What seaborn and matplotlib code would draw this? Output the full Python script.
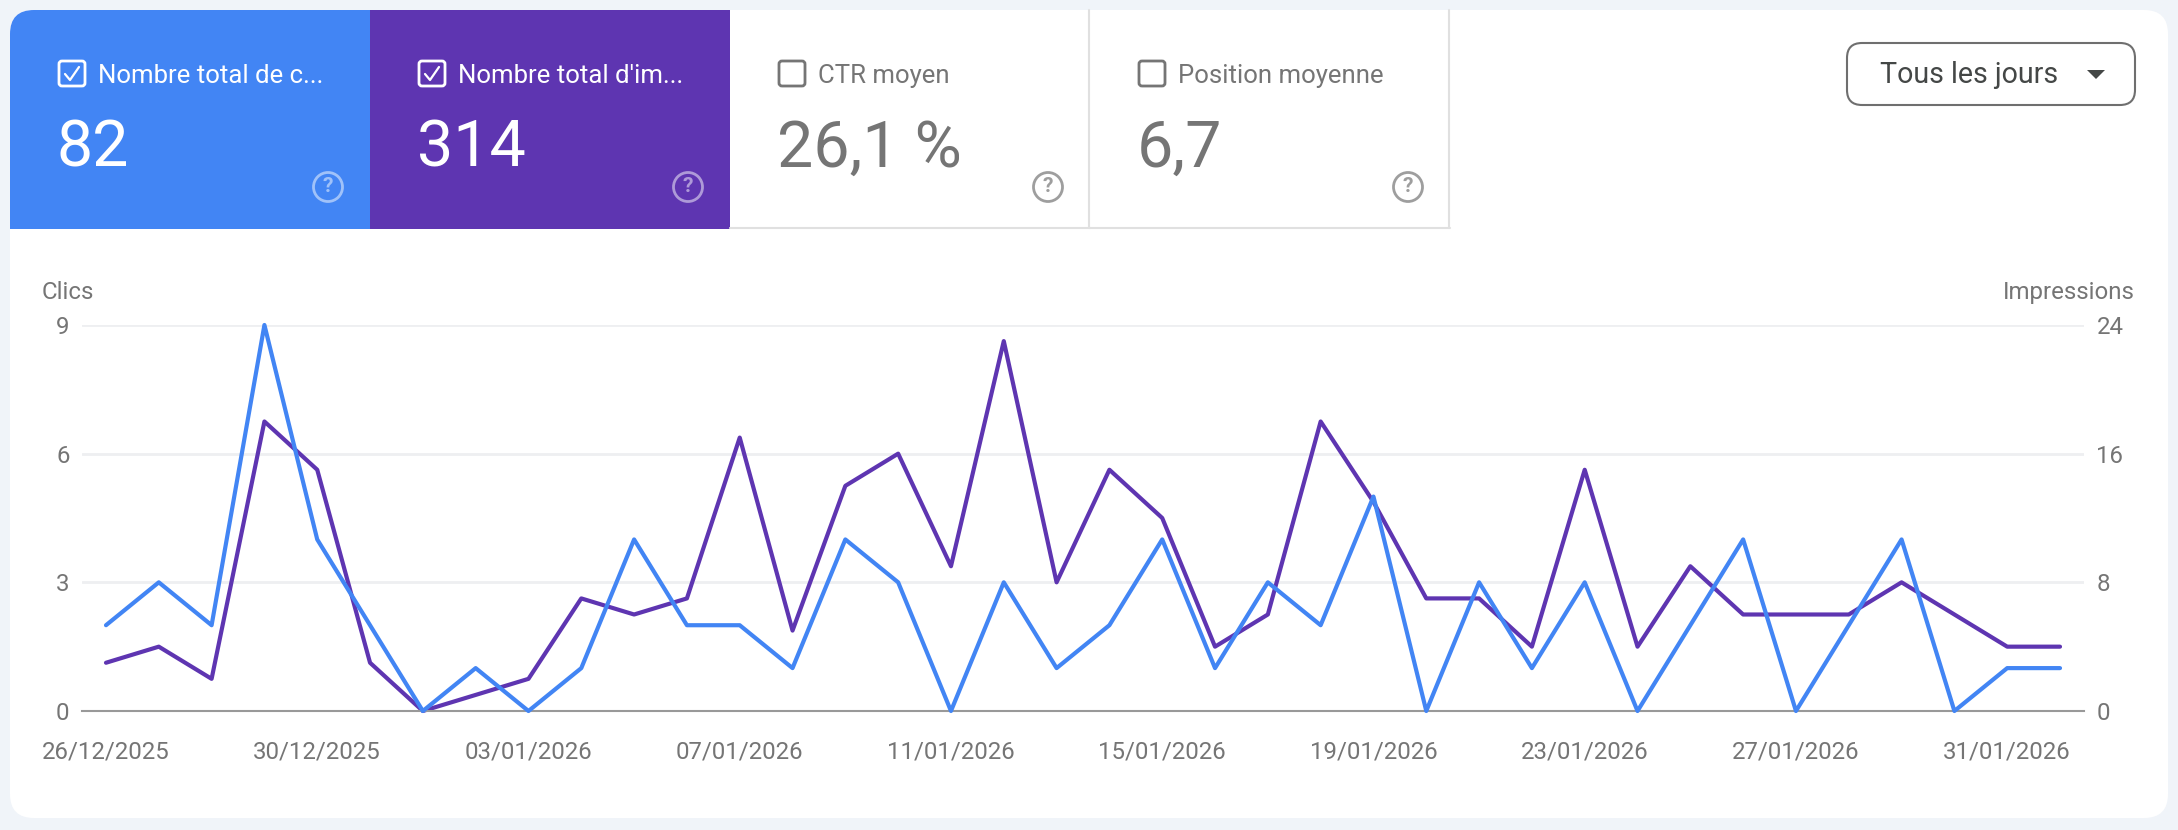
import matplotlib
matplotlib.use("Agg")
import matplotlib.pyplot as plt
import matplotlib.dates as mdates
from matplotlib.patches import FancyBboxPatch, Rectangle, Circle, Polygon
import pandas as pd
import seaborn as sns

# data
days = pd.date_range("2025-12-26", "2026-02-01", freq="D")
clics = [2, 3, 2, 9, 4, 2, 0, 1, 0, 1, 4, 2, 2, 1, 4, 3, 0, 3, 1, 2, 4, 1, 3, 2, 5, 0,
         3, 1, 3, 0, 2, 4, 0, 2, 4, 0, 1, 1]
impressions = [3, 4, 2, 18, 15, 3, 0, 1, 2, 7, 6, 7, 17, 5, 14, 16, 9, 23, 8, 15, 12, 4, 6, 18, 13, 7,
               7, 4, 15, 4, 9, 6, 6, 6, 8, 6, 4, 4]
tick_days = pd.date_range("2025-12-26", "2026-01-31", freq="4D")
clics_ticks = [0, 3, 6, 9]
impr_ticks = [0, 8, 16, 24]
card_labels = ["Nombre total de c...", "Nombre total d'im...", "CTR moyen", "Position moyenne"]
card_values = ["82", "314", "26,1 %", "6,7"]

W, H = 2178, 830
BLUE = "#4285F4"
PURPLE = "#5E35B1"
GREY = "#757575"
BG = "#F0F4F9"

sns.set_theme(style="white")
plt.rcParams["font.family"] = ["Roboto", "DejaVu Sans"]

df = pd.DataFrame({"day": days, "clics": clics, "impressions": impressions})

fig = plt.figure(figsize=(W / 100, H / 100), dpi=100, facecolor=BG)


def px(size):
    return size * 0.72


# page furniture, drawn in pixel coordinates
ui = fig.add_axes([0, 0, 1, 1], zorder=0)
ui.set_xlim(0, W)
ui.set_ylim(H, 0)
ui.axis("off")

panel = FancyBboxPatch((10, 10), 2158, 808, boxstyle="round,pad=0,rounding_size=24",
                       facecolor="white", edgecolor="none")
ui.add_patch(panel)

card_x = [10, 370, 730, 1090]
card_w = [360, 360, 360, 360]
card_fill = [BLUE, PURPLE, "white", "white"]
for i in range(4):
    x = card_x[i]
    selected = i < 2
    fg = "white" if selected else GREY
    r = Rectangle((x, 10), card_w[i], 219, facecolor=card_fill[i], edgecolor="none")
    ui.add_patch(r)
    r.set_clip_path(panel)
    if not selected:
        ui.plot([x + card_w[i] - 1] * 2, [10, 228], color="#E0E0E0", lw=1.5)
        ui.plot([x, x + card_w[i]], [228, 228], color="#E0E0E0", lw=1.5)

    ui.add_patch(FancyBboxPatch((x + 49, 61), 26, 25, boxstyle="round,pad=0,rounding_size=3",
                                facecolor="none", edgecolor=fg, lw=2))
    if selected:
        ui.plot([x + 55, x + 60, x + 69], [74, 80, 67], color=fg, lw=1.6)
    ui.text(x + 88, 76, card_labels[i], color=fg, fontsize=px(25.8), va="center", ha="left")
    ui.text(x + 47, 142, card_values[i], color=fg, fontsize=px(64.5), va="center_baseline", ha="left")

    icon = "white" if selected else "#9E9E9E"
    alpha = 0.5 if selected else 1
    ui.add_patch(Circle((x + 318, 187), 14.5, facecolor="none", edgecolor=icon, lw=2, alpha=alpha))
    ui.text(x + 318, 187, "?", color=icon, alpha=alpha, fontsize=px(21), fontweight="bold",
            ha="center", va="center")

# dropdown
ui.add_patch(FancyBboxPatch((1847, 43), 288, 62, boxstyle="round,pad=0,rounding_size=15",
                            facecolor="white", edgecolor="#6F6F6F", lw=1.5))
ui.text(1880, 75, "Tous les jours", color="#444746", fontsize=px(28.6), va="center", ha="left")
ui.add_patch(Polygon([(2087, 70), (2105, 70), (2096, 79)], facecolor="#444746", edgecolor="none"))

ui.text(42, 292, "Clics", color=GREY, fontsize=px(24), va="center", ha="left")
ui.text(2135, 292, "Impressions", color=GREY, fontsize=px(24), va="center", ha="right")

# chart: clics on the left axis, impressions on the right
ax = fig.add_axes([82 / W, 1 - 711 / H, (2084 - 82) / W, (711 - 325) / H], zorder=2)
ax.patch.set_visible(False)
ax2 = ax.twinx()
ax2.set_zorder(1)
ax2.patch.set_visible(False)

sns.lineplot(data=df, x="day", y="impressions", ax=ax2, color=PURPLE, linewidth=3, legend=False,
             clip_on=False)
sns.lineplot(data=df, x="day", y="clics", ax=ax, color=BLUE, linewidth=3, legend=False,
             clip_on=False)

pad = pd.Timedelta(hours=10.9)
ax.set_xlim(days[0] - pad, days[-1] + pad)
ax.set_ylim(0, 9)
ax2.set_ylim(0, 24)
ax.set_yticks(clics_ticks)
ax2.set_yticks(impr_ticks)
ax.set_xticks(tick_days)
ax.xaxis.set_major_formatter(mdates.DateFormatter("%d/%m/%Y"))
ax.set_xlabel("")
ax.set_ylabel("")
ax2.set_ylabel("")

ax.tick_params(axis="x", length=0, pad=21.5, labelsize=px(24), labelcolor=GREY)
ax.tick_params(axis="y", length=0, pad=9, labelsize=px(24), labelcolor=GREY)
ax2.tick_params(axis="y", length=0, pad=9, labelsize=px(24), labelcolor=GREY)

ax2.grid(axis="y", color="#EEEFF1", lw=2)
ax2.set_axisbelow(True)
ax.grid(False)
for a in (ax, ax2):
    for side in ("top", "left", "right"):
        a.spines[side].set_visible(False)
ax2.spines["bottom"].set_visible(False)
ax.spines["bottom"].set_color("#999999")
ax.spines["bottom"].set_linewidth(1.5)
ax.spines["bottom"].set_zorder(0)

fig.savefig("out.png", dpi=100, facecolor=BG)
